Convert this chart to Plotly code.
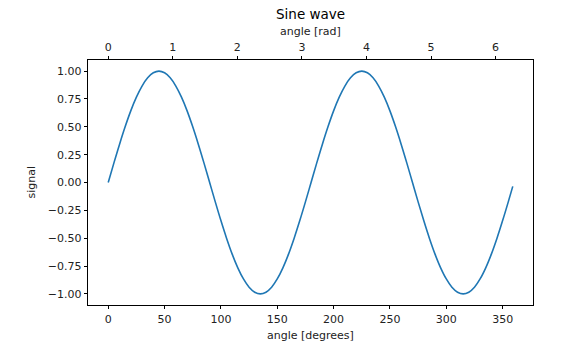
import plotly.graph_objects as go
import math

angle_deg = [0, 5, 10, 15, 20, 25, 30, 35, 40, 45, 50, 55, 60, 65, 70, 75, 80, 85,
             90, 95, 100, 105, 110, 115, 120, 125, 130, 135, 140, 145, 150, 155, 160, 165, 170, 175,
             180, 185, 190, 195, 200, 205, 210, 215, 220, 225, 230, 235, 240, 245, 250, 255, 260, 265,
             270, 275, 280, 285, 290, 295, 300, 305, 310, 315, 320, 325, 330, 335, 340, 345, 350, 355, 359]
signal = [0.000, 0.174, 0.342, 0.500, 0.643, 0.766, 0.866, 0.940, 0.985, 1.000, 0.985, 0.940, 0.866, 0.766, 0.643, 0.500, 0.342, 0.174,
          0.000, -0.174, -0.342, -0.500, -0.643, -0.766, -0.866, -0.940, -0.985, -1.000, -0.985, -0.940, -0.866, -0.766, -0.643, -0.500, -0.342, -0.174,
          0.000, 0.174, 0.342, 0.500, 0.643, 0.766, 0.866, 0.940, 0.985, 1.000, 0.985, 0.940, 0.866, 0.766, 0.643, 0.500, 0.342, 0.174,
          0.000, -0.174, -0.342, -0.500, -0.643, -0.766, -0.866, -0.940, -0.985, -1.000, -0.985, -0.940, -0.866, -0.766, -0.643, -0.500, -0.342, -0.174, -0.035]

deg_ticks = [0, 50, 100, 150, 200, 250, 300, 350]
rad_ticks = [0, 1, 2, 3, 4, 5, 6]
y_ticks = [1.0, 0.75, 0.5, 0.25, 0.0, -0.25, -0.5, -0.75, -1.0]
y_labels = ["1.00", "0.75", "0.50", "0.25", "0.00", "\u22120.25", "\u22120.50", "\u22120.75", "\u22121.00"]

xmin, xmax = -17.95, 376.95
font = dict(family="DejaVu Sans", size=11, color="#222")

fig = go.Figure()
fig.add_trace(go.Scatter(x=angle_deg, y=signal, mode="lines", line=dict(color="#1f77b4", width=1.6, shape="spline", smoothing=1),
                         hoverinfo="skip", showlegend=False))
fig.add_trace(go.Scatter(x=[a * math.pi / 180 for a in angle_deg], y=signal, xaxis="x2", mode="lines",
                         line=dict(width=0), opacity=0, hoverinfo="skip", showlegend=False))

axis_common = dict(showgrid=False, zeroline=False, showline=True, linecolor="#000", linewidth=0.8,
                   ticks="outside", ticklen=3.5, tickwidth=0.8, tickcolor="#000", tickfont=font)

fig.update_layout(
    width=565, height=352, margin=dict(l=88, r=32, t=60, b=47),
    plot_bgcolor="white", paper_bgcolor="white",
    xaxis=dict(range=[xmin, xmax], tickvals=deg_ticks, ticktext=[str(v) for v in deg_ticks],
               mirror=True, **axis_common),
    xaxis2=dict(range=[xmin * math.pi / 180, xmax * math.pi / 180], overlaying="x", side="top",
                tickvals=rad_ticks, ticktext=[str(v) for v in rad_ticks], **axis_common),
    yaxis=dict(range=[-1.1, 1.1], tickvals=y_ticks, ticktext=y_labels, mirror=True, **axis_common),
    annotations=[
        dict(text="Sine wave", xref="paper", yref="paper", x=0.5, y=1, yshift=46, showarrow=False,
             font=dict(family="DejaVu Sans", size=13.5, color="#000"), xanchor="center", yanchor="middle"),
        dict(text="angle [rad]", xref="paper", yref="paper", x=0.5, y=1, yshift=29, showarrow=False,
             font=font, xanchor="center", yanchor="middle"),
        dict(text="angle [degrees]", xref="paper", yref="paper", x=0.5, y=0, yshift=-30, showarrow=False,
             font=font, xanchor="center", yanchor="middle"),
        dict(text="signal", xref="paper", yref="paper", x=0, xshift=-57, y=0.5, showarrow=False,
             font=font, textangle=-90, xanchor="center", yanchor="middle"),
    ],
)
fig.write_html("out.html")
